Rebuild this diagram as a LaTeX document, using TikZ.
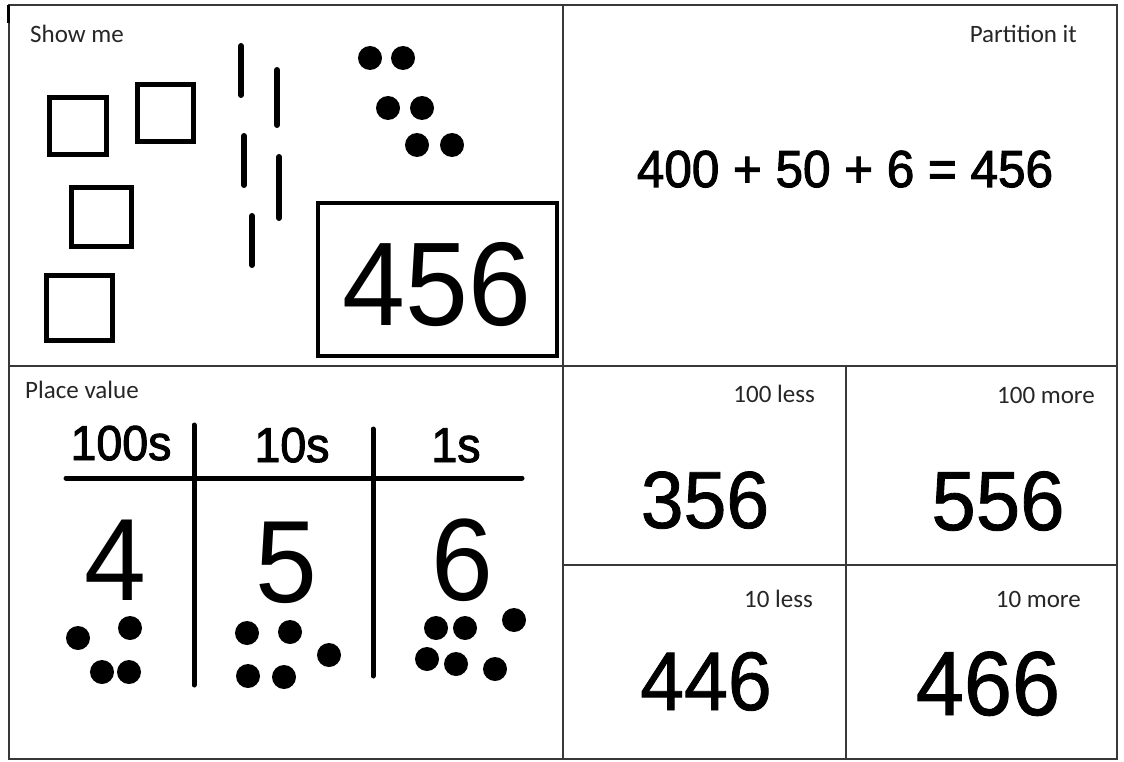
\documentclass[tikz,border=0pt]{standalone}
\usepackage{fontspec}
\setmainfont{Carlito}
\newfontfamily\digfont[FakeStretch=0.95]{Liberation Sans}
\newfontfamily\digmid[FakeStretch=0.95,FakeBold=1]{Liberation Sans}
\newfontfamily\digheavy[FakeStretch=0.95,FakeBold=2]{Liberation Sans}
\newcommand\dg[2]{{\digfont\fontsize{#1pt}{#1pt}\selectfont #2}}
\newcommand\dgm[2]{{\digmid\fontsize{#1pt}{#1pt}\selectfont #2}}
\newcommand\dgh[2]{{\digheavy\fontsize{#1pt}{#1pt}\selectfont #2}}
\begin{document}
\begin{tikzpicture}[x=1pt,y=-1pt,
  grid/.style={draw=black!78, line width=1.8pt},
  blockline/.style={draw=black, line width=5pt},
  stickline/.style={draw=black, line width=6pt, line cap=round},
  barline/.style={draw=black, line width=5pt, line cap=round},
  dotfill/.style={fill=black},
  lbl/.style={inner sep=0pt, text=black!85, font=\fontsize{25pt}{25pt}\selectfont},
  bignum/.style={inner sep=0pt, text=black}]
\fill[white] (0,0) rectangle (1124,762);
\useasboundingbox (0,0) rectangle (1124,762);

% frame and cells
\draw[grid] (9,5) rectangle (1117,759);
\draw[grid] (563,5) -- (563,759);
\draw[grid] (9,366) -- (1117,366);
\draw[grid] (846,366) -- (846,759);
\draw[grid] (563,565) -- (1117,565);
\draw[black, line width=3pt] (8,5) -- (8,23);

% labels
\node[lbl, anchor=base west] (showme) at (30,43) {Show me};
\node[lbl, anchor=base east] (partition) at (1077,43) {Partition it};
\node[lbl, anchor=base west] (placevalue) at (25,398) {Place value};
\node[lbl, anchor=base east] (less100) at (815,402) {100 less};
\node[lbl, anchor=base east] (more100) at (1095,403) {100 more};
\node[lbl, anchor=base east] (less10) at (813,607) {10 less};
\node[lbl, anchor=base east] (more10) at (1081,607) {10 more};

% Show me: hundreds squares
\draw[blockline] (49.5,97.5) rectangle (106.5,154.5);
\draw[blockline] (137.5,84.5) rectangle (193.5,141.5);
\draw[blockline] (71.5,187.5) rectangle (131.5,246.5);
\draw[blockline] (46.5,275.5) rectangle (112.5,340.5);

% tens sticks
\draw[stickline] (241,46) -- (241,95);
\draw[stickline] (277,70) -- (277,125);
\draw[stickline] (244,136) -- (244,185);
\draw[stickline] (279,157) -- (279,218);
\draw[stickline] (252,216) -- (252,265);

% ones dots
\foreach \p in {(370,58),(403,58),(388,108),(422,108),(417,145),(452,145)}
  \fill[dotfill] \p circle (12);

% number box
\draw[draw=black, line width=4pt] (318,203) rectangle (557,356);
\node[bignum, anchor=base] (num456) at (437,325) {\dg{119}{456}};

% partition
\node[bignum, anchor=base] (equation) at (845,187) {\dgh{52}{400 + 50 + 6 = 456}};

% place value table
\draw[barline] (66,478) -- (522,478);
\draw[barline] (194,425) -- (194,685);
\draw[barline] (373,429) -- (373,676);
\node[bignum, anchor=base] (h100) at (121,460) {\dgh{49}{100s}};
\node[bignum, anchor=base] (h10) at (292,462) {\dgh{49}{10s}};
\node[bignum, anchor=base] (h1) at (456,462) {\dgh{49}{1s}};
\node[bignum, anchor=base] (d4) at (115,600) {\dg{117}{4}};
\node[bignum, anchor=base] (d5) at (286,602) {\dg{117}{5}};
\node[bignum, anchor=base] (d6) at (462,600) {\dg{117}{6}};
\foreach \p in {(78,638),(130,628),(102,672),(129,672),
                (247,633),(290,632),(329,655),(248,676),(284,677),
                (436,628),(465,628),(514,620),(427,659),(456,664),(495,669)}
  \fill[dotfill] \p circle (12);

% more / less
\node[bignum, anchor=base] (n356) at (705,528) {\dgm{81}{356}};
\node[bignum, anchor=base] (n556) at (998,530) {\dgm{84}{556}};
\node[bignum, anchor=base] (n446) at (706,710) {\dgm{83}{446}};
\node[bignum, anchor=base] (n466) at (988,715) {\dgm{91}{466}};
\end{tikzpicture}
\end{document}
